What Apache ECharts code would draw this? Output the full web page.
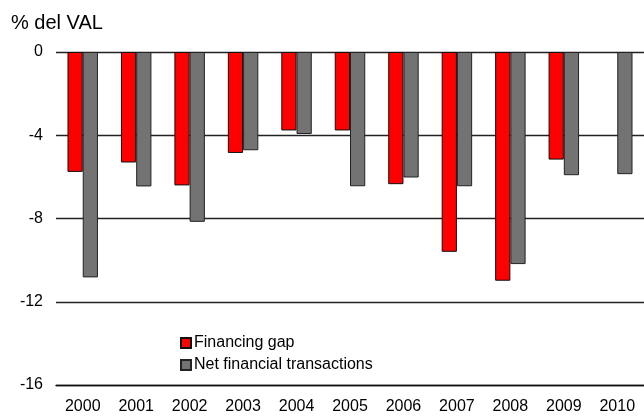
<!DOCTYPE html>
<html>
<head>
<meta charset="utf-8">
<script src="https://cdn.jsdelivr.net/npm/echarts@6/dist/echarts.min.js"></script>
<style>html,body{margin:0;padding:0;background:#fff}#c{width:644px;height:416px}</style>
</head>
<body>
<div id="c"></div>
<script>
const years = ['2000','2001','2002','2003','2004','2005','2006','2007','2008','2009','2010'];
const financingGap = [-5.76, -5.31, -6.41, -4.85, -3.77, -3.77, -6.35, -9.6, -10.99, -5.17, null];
const netFinancial = [-10.83, -6.46, -8.16, -4.72, -3.94, -6.45, -6.03, -6.45, -10.19, -5.92, -5.87];
const yTicks = [0, -4, -8, -12, -16];
const seriesNames = ['Financing gap', 'Net financial transactions'];

const chart = echarts.init(document.getElementById('c'), null, {renderer: 'canvas'});
const font = 'Liberation Sans, Arial, sans-serif';
chart.setOption({
  animation: false,
  backgroundColor: '#fff',
  title: {
    text: '% del VAL', left: 6, top: 8,
    textStyle: {fontFamily: font, fontSize: 20, fontWeight: 'normal', color: '#000'}
  },
  legend: {
    orient: 'vertical', left: 175, top: 330, itemWidth: 10, itemHeight: 10, itemGap: 6,
    icon: 'rect',
    textStyle: {fontFamily: font, fontSize: 16, color: '#000', padding: [0,0,0,-2]},
    data: seriesNames
  },
  grid: {left: 56, right: -4, top: 52, bottom: 31, containLabel: false},
  xAxis: {
    type: 'category', data: years, position: 'bottom',
    axisLine: {onZero: false, show: true, lineStyle: {color: '#111', width: 1.3}},
    axisTick: {show: false},
    axisLabel: {fontFamily: font, fontSize: 16, color: '#000', margin: 14}
  },
  yAxis: {
    type: 'value', min: Math.min(...yTicks), max: Math.max(...yTicks), interval: 4,
    axisLine: {show: false}, axisTick: {show: false},
    axisLabel: {fontFamily: font, fontSize: 16, color: '#000', margin: 13},
    splitLine: {show: true, lineStyle: {color: '#222', width: 1.3}}
  },
  series: [
    {name: seriesNames[0], type: 'bar', data: financingGap, barGap: '0%', barCategoryGap: '43%',
     itemStyle: {color: '#ff0000', borderColor: '#111', borderWidth: 1}},
    {name: seriesNames[1], type: 'bar', data: netFinancial, barGap: '0%', barCategoryGap: '43%',
     itemStyle: {color: '#737373', borderColor: '#222', borderWidth: 1}}
  ]
});
</script>
</body>
</html>
